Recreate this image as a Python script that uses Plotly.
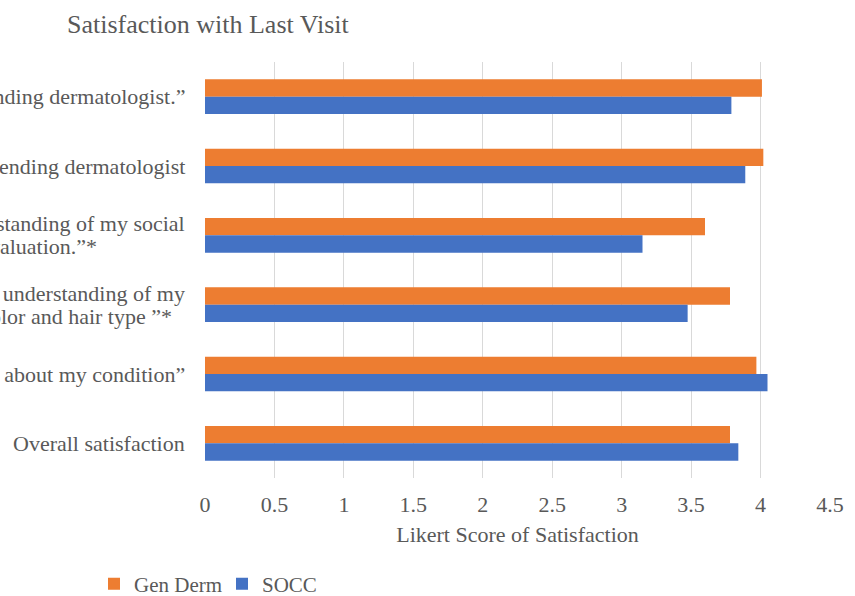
import plotly.graph_objects as go

categories = [
    "“I trust my attending dermatologist.”",
    "“I would recommend my attending dermatologist",
    "“My dermatologist had an understanding of my social<br>background and its effect on my evaluation.”*",
    "“My dermatologist had an understanding of my<br>skin color and hair type ”*",
    "“My dermatologist educated me about my condition”",
    "Overall satisfaction",
]
gen_derm = [4.01, 4.02, 3.60, 3.78, 3.97, 3.78]
socc = [3.79, 3.89, 3.15, 3.475, 4.05, 3.84]
series_names = ["Gen Derm", "SOCC"]
x_ticks = [0, 0.5, 1, 1.5, 2, 2.5, 3, 3.5, 4, 4.5]

FONT = "Liberation Serif"
GRAY = "#595959"

fig = go.Figure()
fig.add_trace(go.Bar(y=categories, x=gen_derm, name=series_names[0], orientation="h",
                     marker=dict(color="#ED7D31", line=dict(width=0))))
fig.add_trace(go.Bar(y=categories, x=socc, name=series_names[1], orientation="h",
                     marker=dict(color="#4472C4", line=dict(width=0))))

# category labels (right edge offsets of each line, centered multi-line like Excel)
line_right = {2: [-20, -108], 3: [-20, -33]}
annotations = []
for i, lab in enumerate(categories):
    lines = lab.split("<br>")
    n = len(lines)
    for j, ln in enumerate(lines):
        rs = line_right.get(i, [-20, -20])[j]
        yshift = (n - 1) / 2 * 23 - j * 23
        annotations.append(dict(
            x=0, xref="paper", y=lab, yref="y", text=ln, showarrow=False,
            xanchor="right", yanchor="middle", xshift=rs + 2, yshift=yshift,
            font=dict(family=FONT, size=22, color=GRAY),
        ))

fig.update_layout(
    width=855, height=596,
    margin=dict(l=205, r=25, t=62, b=118),
    paper_bgcolor="white", plot_bgcolor="white",
    barmode="group", bargap=0.5, bargroupgap=0,
    font=dict(family=FONT, size=22, color=GRAY),
    title=dict(text="Satisfaction with Last Visit", x=67 / 855, xref="container", xanchor="left",
               y=1 - 24 / 596, yref="container", yanchor="middle",
               font=dict(family=FONT, size=26, color=GRAY)),
    xaxis=dict(range=[0, 4.5], tickvals=x_ticks, ticktext=[f"{v:g}" for v in x_ticks],
               showgrid=True, gridcolor="#d9d9d9", gridwidth=1, zeroline=False, showline=False,
               ticks="outside", ticklen=7, tickcolor="rgba(0,0,0,0)",
               tickfont=dict(family=FONT, size=22, color=GRAY),
               title=dict(text="Likert Score of Satisfaction", standoff=10,
                          font=dict(family=FONT, size=22, color=GRAY))),
    yaxis=dict(autorange="reversed", showticklabels=False, showgrid=False, zeroline=False,
               showline=False, ticks=""),
    legend=dict(orientation="h", x=94 / 855, xref="container", xanchor="left",
                y=1 - 584 / 596, yref="container", yanchor="middle",
                font=dict(family=FONT, size=21, color=GRAY), traceorder="normal",
                itemwidth=30, entrywidth=83, entrywidthmode="pixels"),
    annotations=annotations,
    showlegend=True,
)

fig.write_html("out.html")
